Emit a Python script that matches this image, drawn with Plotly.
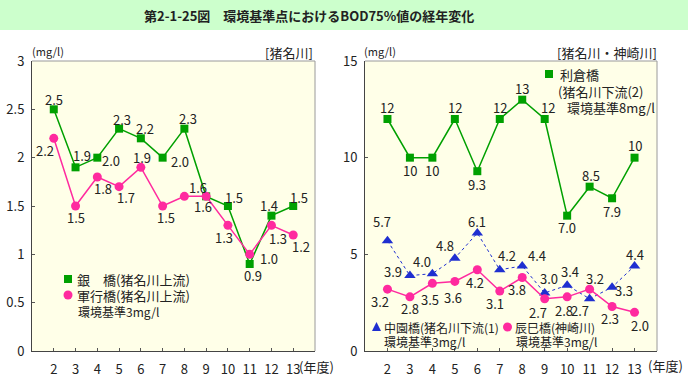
import plotly.graph_objects as go

# ---------------- data ----------------
years = [2, 3, 4, 5, 6, 7, 8, 9, 10, 11, 12, 13]
year_ticks = [str(y) for y in years]

ginbashi = [2.5, 1.9, 2.0, 2.3, 2.2, 2.0, 2.3, 1.6, 1.5, 0.9, 1.4, 1.5]      # 銀橋
gungyo = [2.2, 1.5, 1.8, 1.7, 1.9, 1.5, 1.6, 1.6, 1.3, 1.0, 1.3, 1.2]        # 軍行橋
rikura = [12, 10, 10, 12, 9.3, 12, 13, 12, 7.0, 8.5, 7.9, 10]                # 利倉橋
nakazono = [5.7, 3.9, 4.0, 4.8, 6.1, 4.2, 4.4, 3.0, 3.4, 2.7, 3.3, 4.4]      # 中園橋
tatsumi = [3.2, 2.8, 3.5, 3.6, 4.2, 3.1, 3.8, 2.7, 2.8, 3.2, 2.3, 2.0]       # 辰巳橋

left_yticks = [0, 0.5, 1, 1.5, 2, 2.5, 3]
right_yticks = [0, 5, 10, 15]

# ---------------- styling / label offsets (screen px: dx right, dy down) ----------------
W, H = 688, 377
FONT = "Noto Sans CJK JP"
GREEN = "#00a000"
PINK = "#ff2a9f"
BLUE = "#1f2fd0"
TXT = "#222222"

off_gin = [(0, -10), (6, -12), (14, 3), (3, -9), (4, -10), (17, 4), (4, -10), (-3, 10), (6, -9), (3, 11), (-2, -10), (6, -9)]
off_gun = [(-9, 12), (0, 11), (6, 11), (7, 11), (1, -10), (3, 11), (14, -9), None, (-4, 12), (19, 4), (7, 13), (8, 11)]
off_rik = [(0, -12), (0, 13), (0, 13), (0, -12), (0, 13), (0, -12), (0, -11), (3, -12), (0, 12), (1, -11), (0, 13), (0, -12)]
off_nak = [(-5, -19), (-17, -4), (-10, -12), (-10, -13), (0, -12), (7, -14), (15, -10), (4, -15), (3, -14), (-10, 12), (12, 3), (0, -11)]
off_tat = [(-7, 12), (0, 12), (-2, 16), (-2, 16), (-2, 13), (-5, 12), (-5, 12), (-7, 14), (-3, 14), (5, -11), (-2, 12), (5, 13)]


def px(x):
    return x / W


def py(y):
    return (H - y) / H


fig = go.Figure()

# data traces
fig.add_trace(go.Scatter(x=years, y=ginbashi, mode="lines+markers", xaxis="x", yaxis="y",
                         line=dict(color=GREEN, width=1.5),
                         marker=dict(symbol="square", size=8, color=GREEN), name="銀　橋"))
fig.add_trace(go.Scatter(x=years, y=gungyo, mode="lines+markers", xaxis="x", yaxis="y",
                         line=dict(color=PINK, width=1.5),
                         marker=dict(symbol="circle", size=9, color=PINK), name="軍行橋"))
fig.add_trace(go.Scatter(x=years, y=rikura, mode="lines+markers", xaxis="x2", yaxis="y2",
                         line=dict(color=GREEN, width=1.5),
                         marker=dict(symbol="square", size=8, color=GREEN), name="利倉橋"))
fig.add_trace(go.Scatter(x=years, y=nakazono, mode="lines+markers", xaxis="x2", yaxis="y2",
                         line=dict(color=BLUE, width=1, dash="dot"),
                         marker=dict(symbol="triangle-up", size=10, color=BLUE), name="中園橋"))
fig.add_trace(go.Scatter(x=years, y=tatsumi, mode="lines+markers", xaxis="x2", yaxis="y2",
                         line=dict(color=PINK, width=1.5),
                         marker=dict(symbol="circle", size=9, color=PINK), name="辰巳橋"))

ann = []


def add_labels(vals, offs, xr, yr, fmt):
    for x, v, o in zip(years, vals, offs):
        if o is None:
            continue
        ann.append(dict(x=x, y=v, xref=xr, yref=yr, text=fmt(v), showarrow=False,
                        xanchor="center", yanchor="middle", xshift=o[0], yshift=-o[1],
                        font=dict(family=FONT, size=13, color=TXT)))


fmt1 = lambda v: f"{v:.1f}"
fmt_r = lambda v: f"{v:.0f}" if v >= 10 else f"{v:.1f}"
add_labels(ginbashi, off_gin, "x", "y", fmt1)
add_labels(gungyo, off_gun, "x", "y", fmt1)
add_labels(rikura, off_rik, "x2", "y2", fmt_r)
add_labels(nakazono, off_nak, "x2", "y2", fmt1)
add_labels(tatsumi, off_tat, "x2", "y2", fmt1)


def txt(x, y, s, size=12, anchor="left", bold=False):
    ann.append(dict(x=px(x), y=py(y), xref="paper", yref="paper", text=f"<b>{s}</b>" if bold else s,
                    showarrow=False, xanchor=anchor, yanchor="middle", borderpad=0,
                    font=dict(family=FONT, size=size, color=TXT)))


# title
txt(309, 15, "第2-1-25図　環境基準点におけるBOD75%値の経年変化", size=13, anchor="center", bold=True)
# units / headers
txt(48, 51, "(mg/l)", size=11, anchor="center")
txt(380, 51, "(mg/l)", size=11, anchor="center")
txt(314, 52, "[猪名川]", size=13, anchor="right")
txt(658, 52, "[猪名川・神崎川]", size=13, anchor="right")
txt(298, 366, "(年度)", size=13, anchor="left")
txt(647, 365, "(年度)", size=13, anchor="left")
# legends
txt(76, 279, "銀　橋(猪名川上流)", size=13)
txt(76, 295, "軍行橋(猪名川上流)", size=13)
txt(77, 311, "環境基準3mg/l", size=12)
txt(559, 74, "利倉橋", size=13)
txt(557, 91, "(猪名川下流(2)", size=13)
txt(566, 108, "環境基準8mg/l", size=13)
txt(383, 327, "中園橋(猪名川下流(1)", size=12)
txt(383, 341, "環境基準3mg/l", size=12)
txt(514, 327, "辰巳橋(神崎川)", size=12)
txt(515, 341, "環境基準3mg/l", size=12)

shapes = [
    dict(type="rect", xref="paper", yref="paper", x0=0, x1=1, y0=py(30), y1=1,
         fillcolor="#ccffcc", line=dict(width=0), layer="below"),
    # top / right borders of plot areas
    dict(type="line", xref="paper", yref="paper", x0=px(32), x1=px(315), y0=py(61), y1=py(61), line=dict(color="#9a9a9a", width=1)),
    dict(type="line", xref="paper", yref="paper", x0=px(315), x1=px(315), y0=py(61), y1=py(351), line=dict(color="#9a9a9a", width=1)),
    dict(type="line", xref="paper", yref="paper", x0=px(365), x1=px(657), y0=py(61), y1=py(61), line=dict(color="#9a9a9a", width=1)),
    dict(type="line", xref="paper", yref="paper", x0=px(657), x1=px(657), y0=py(61), y1=py(351), line=dict(color="#9a9a9a", width=1)),
    # legend markers
    dict(type="rect", xref="paper", yref="paper", x0=px(64), x1=px(72), y0=py(283), y1=py(275), fillcolor=GREEN, line=dict(width=0)),
    dict(type="circle", xref="paper", yref="paper", x0=px(63.5), x1=px(72.5), y0=py(299.5), y1=py(290.5), fillcolor=PINK, line=dict(width=0)),
    dict(type="rect", xref="paper", yref="paper", x0=px(545), x1=px(553), y0=py(78), y1=py(70), fillcolor=GREEN, line=dict(width=0)),
    dict(type="path", xref="paper", yref="paper",
         path=f"M {px(372)} {py(331)} L {px(381)} {py(331)} L {px(376.5)} {py(322)} Z", fillcolor=BLUE, line=dict(width=0)),
    dict(type="circle", xref="paper", yref="paper", x0=px(503), x1=px(512), y0=py(331.5), y1=py(322.5), fillcolor=PINK, line=dict(width=0)),
]

xaxis_common = dict(range=[1, 14], tickmode="array", tickvals=years, ticktext=year_ticks,
                    ticks="inside", ticklen=3, tickcolor="#555", showline=True, linecolor="#444",
                    linewidth=1, showgrid=False, zeroline=False, ticklabelstandoff=6, automargin=False,
                    tickfont=dict(family=FONT, size=13, color=TXT), fixedrange=True)
yaxis_common = dict(ticks="inside", ticklen=3, tickcolor="#555", showline=True, linecolor="#444",
                    linewidth=1, showgrid=False, zeroline=False, ticklabelstandoff=4, automargin=False,
                    tickfont=dict(family=FONT, size=13, color=TXT), fixedrange=True)

fig.update_layout(
    template="none",
    width=W, height=H, autosize=False,
    margin=dict(l=0, r=0, t=0, b=0, pad=0),
    paper_bgcolor="white", plot_bgcolor="#ffffe8",
    showlegend=False,
    xaxis=dict(domain=[px(32), px(315)], anchor="y", **xaxis_common),
    yaxis=dict(domain=[py(351), py(61)], anchor="x", range=[0, 3], tickvals=left_yticks, **yaxis_common),
    xaxis2=dict(domain=[px(365), px(657)], anchor="y2", **xaxis_common),
    yaxis2=dict(domain=[py(351), py(61)], anchor="x2", range=[0, 15], tickvals=right_yticks, **yaxis_common),
    annotations=ann,
    shapes=shapes,
)

fig.write_html(
    "out.html",
    config={"displayModeBar": False, "staticPlot": True},
    post_script="document.body.style.margin='0';document.body.style.overflow='hidden';",
)
